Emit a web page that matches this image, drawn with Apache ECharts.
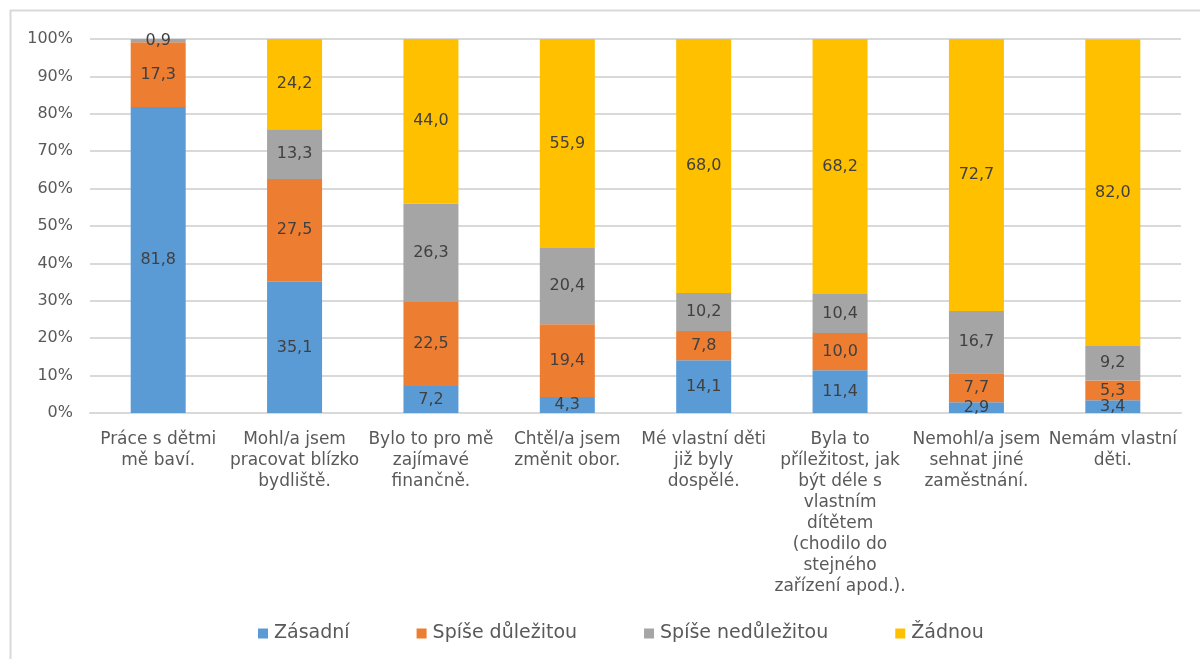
<!DOCTYPE html>
<html>
<head>
<meta charset="utf-8">
<script src="https://cdn.jsdelivr.net/npm/echarts@6/dist/echarts.min.js"></script>
<style>
    html, body { margin: 0; padding: 0; background: #fff; }
    #chart { width: 1200px; height: 659px; }
</style>
</head>
<body>
<div id="chart"></div>
<script>
// kategorie (popisky osy x, zalomené jako v originále)
const categories = [
    'Práce s dětmi\nmě baví.',
    'Mohl/a jsem\npracovat blízko\nbydliště.',
    'Bylo to pro mě\nzajímavé\nfinančně.',
    'Chtěl/a jsem\nzměnit obor.',
    'Mé vlastní děti\njiž byly\ndospělé.',
    'Byla to\npříležitost, jak\nbýt déle s\nvlastním\ndítětem\n(chodilo do\nstejného\nzařízení apod.).',
    'Nemohl/a jsem\nsehnat jiné\nzaměstnání.',
    'Nemám vlastní\nděti.'
];
const seriesNames = ['Zásadní', 'Spíše důležitou', 'Spíše nedůležitou', 'Žádnou'];
const zasadni = [81.8, 35.1, 7.2, 4.3, 14.1, 11.4, 2.9, 3.4];
const spiseDulezitou = [17.3, 27.5, 22.5, 19.4, 7.8, 10.0, 7.7, 5.3];
const spiseNedulezitou = [0.9, 13.3, 26.3, 20.4, 10.2, 10.4, 16.7, 9.2];
const zadnou = [0, 24.2, 44.0, 55.9, 68.0, 68.2, 72.7, 82.0];
const colors = ['#5B9BD5', '#ED7D31', '#A5A5A5', '#FFC000'];

const font = 'DejaVu Sans';
const values = [zasadni, spiseDulezitou, spiseNedulezitou, zadnou];

let myChart = echarts.init(document.getElementById('chart'));
myChart.setOption({
    animation: false,
    textStyle: { fontFamily: font },
    graphic: [{
        type: 'rect',
        shape: { x: 10.5, y: 10.5, width: 1300, height: 800 },
        style: { fill: 'none', stroke: '#D9D9D9', lineWidth: 2 }
    }],
    grid: { left: 90, right: 19, top: 39, bottom: 246 },
    legend: {
        data: seriesNames,
        bottom: 11,
        left: 253,
        itemWidth: 10,
        itemHeight: 10,
        itemGap: 67,
        icon: 'rect',
        textStyle: { fontFamily: font, fontSize: 19, color: '#595959', padding: [0, 0, 0, 1] }
    },
    xAxis: {
        type: 'category',
        data: categories,
        axisLine: { lineStyle: { color: '#D9D9D9', width: 2 } },
        axisTick: { show: false },
        axisLabel: {
            interval: 0,
            margin: 16,
            fontFamily: font,
            fontSize: 17,
            lineHeight: 21,
            color: '#595959'
        }
    },
    yAxis: {
        type: 'value',
        min: 0,
        max: 100,
        interval: 10,
        axisLine: { show: false },
        axisTick: { show: false },
        splitLine: { lineStyle: { color: '#D9D9D9', width: 2 } },
        axisLabel: {
            formatter: '{value}%',
            fontFamily: font,
            fontSize: 16,
            color: '#595959',
            margin: 17
        }
    },
    series: seriesNames.map((name, i) => ({
        name: name,
        type: 'bar',
        stack: 'total',
        barWidth: 55,
        data: values[i],
        itemStyle: { color: colors[i] },
        label: {
            show: true,
            position: 'inside',
            fontFamily: font,
            fontSize: 16,
            color: '#404040',
            formatter: p => p.value === 0 ? '' : p.value.toFixed(1).replace('.', ',')
        }
    }))
});
</script>
</body>
</html>
